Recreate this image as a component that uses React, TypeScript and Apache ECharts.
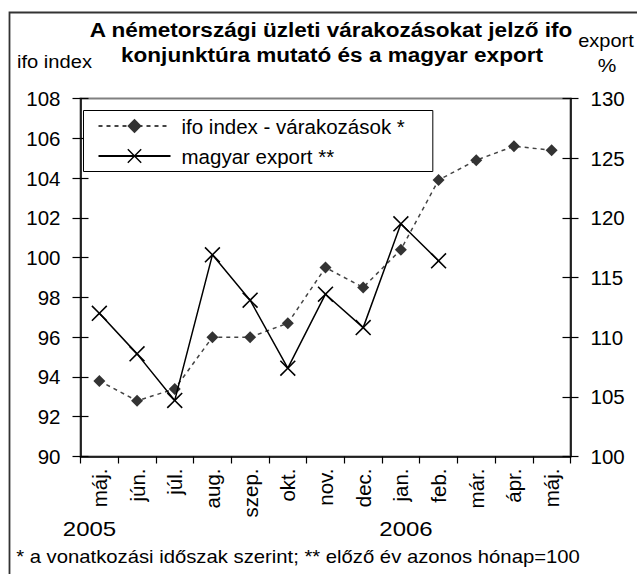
import React, { useEffect, useRef } from "react";
import * as echarts from "echarts";

const months = ["máj.", "jún.", "júl.", "aug.", "szep.", "okt.", "nov.", "dec.", "jan.", "feb.", "már.", "ápr.", "máj."];
const ifoIndex = [93.8, 92.8, 93.4, 96.0, 96.0, 96.7, 99.5, 98.5, 100.4, 103.9, 104.9, 105.6, 105.4];
const magyarExport = [112.0, 108.6, 104.7, 116.9, 113.1, 107.4, 113.6, 110.8, 119.5, 116.4, null, null, null];
const leftAxis = { min: 90, max: 108, interval: 2 };
const rightAxis = { min: 100, max: 130, interval: 5 };
const titleLines = ["A németországi üzleti várakozásokat jelző ifo", "konjunktúra mutató és a magyar export"];
const years = ["2005", "2006"];
const footnote = "* a vonatkozási időszak szerint; ** előző év azonos hónap=100";

const FONT = "'Liberation Sans', Arial, sans-serif";
const CROSS = "path://M0,7L7,0L50,43L93,0L100,7L57,50L100,93L93,100L50,57L7,100L0,93L43,50Z";

export default function App() {
  const ref = useRef<HTMLDivElement>(null);
  useEffect(() => {
    if (!ref.current) return;
    const chart = echarts.init(ref.current, null, { renderer: "svg" });
    const axisText = { color: "#000", fontSize: 20.5, fontFamily: FONT };
    const txt = (text: string, x: number, y: number, size: number, sx: number, bold = false, align = "center") => ({
      type: "text",
      x,
      y,
      scaleX: sx,
      silent: true,
      style: {
        text,
        fill: "#000",
        fontSize: size,
        fontFamily: FONT,
        fontWeight: bold ? "bold" : "normal",
        align,
        verticalAlign: "middle",
      },
    });
    const yBase = (ax: any, pos: string, inside: boolean, labels: boolean) => ({
      type: "value",
      position: pos,
      min: ax.min,
      max: ax.max,
      interval: ax.interval,
      splitLine: { show: false },
      axisLine: { show: labels, lineStyle: { color: "#000", width: 1.5 } },
      axisTick: { show: true, inside, length: 8, lineStyle: { color: "#000", width: 1.2 } },
      axisLabel: labels ? { ...axisText, margin: 20 } : { show: false },
    });
    chart.setOption({
      animation: false,
      backgroundColor: "#fff",
      grid: { left: 80.5, right: 66.5, top: 98.5, bottom: 117.5, show: true, borderColor: "#808080", borderWidth: 2, backgroundColor: "transparent" },
      legend: {
        orient: "vertical",
        left: 83.5,
        top: 110.5,
        padding: [5, 28, 5, 14],
        itemWidth: 72,
        itemHeight: 18,
        itemGap: 9,
        borderColor: "#000",
        borderWidth: 1,
        backgroundColor: "#fff",
        textStyle: { color: "#000", fontSize: 20.5, fontFamily: FONT, lineHeight: 18, padding: [0, 0, 0, 6] },
        data: ["ifo index - várakozások *", "magyar export **"],
      },
      xAxis: {
        type: "category",
        data: months,
        boundaryGap: true,
        axisLine: { lineStyle: { color: "#000", width: 1.5 } },
        axisTick: { show: true, interval: 0, length: 7, lineStyle: { color: "#000", width: 1.2 } },
        axisLabel: { ...axisText, interval: 0, rotate: 90, margin: 12 },
      },
      yAxis: [
        yBase(leftAxis, "left", false, true),
        yBase(rightAxis, "right", false, true),
        yBase(leftAxis, "left", true, false),
        yBase(rightAxis, "right", true, false),
      ],
      series: [
        {
          name: "ifo index - várakozások *",
          type: "line",
          yAxisIndex: 0,
          data: ifoIndex,
          symbol: "diamond",
          symbolSize: 12,
          itemStyle: { color: "#333" },
          lineStyle: { color: "#444", width: 1.5, type: [4, 4] },
          z: 2,
        },
        {
          name: "magyar export **",
          type: "line",
          yAxisIndex: 1,
          data: magyarExport,
          symbol: CROSS,
          symbolSize: 16,
          itemStyle: { color: "#000" },
          lineStyle: { color: "#000", width: 1.5 },
          z: 3,
        },
      ],
      graphic: [
        { type: "rect", shape: { x: 9.5, y: 12.5, width: 700, height: 700 }, style: { fill: "none", stroke: "#333", lineWidth: 1.8 }, silent: true },
        txt(titleLines[0], 331, 30.5, 19.6, 1.15, true),
        txt(titleLines[1], 332, 55, 19.6, 1.15, true),
        txt("ifo index", 54.5, 61, 19, 1.06),
        txt("export", 606, 40, 19, 1.05),
        txt("%", 607, 65, 19, 1.1),
        txt(years[0], 89.5, 529, 20, 1.2),
        txt(years[1], 406, 529, 20, 1.2),
        txt(footnote, 298, 556.5, 18.6, 1.09),
      ],
    });
    return () => chart.dispose();
  }, []);
  return <div ref={ref} style={{ position: "fixed", left: 0, top: 0, width: 637, height: 574 }} />;
}
